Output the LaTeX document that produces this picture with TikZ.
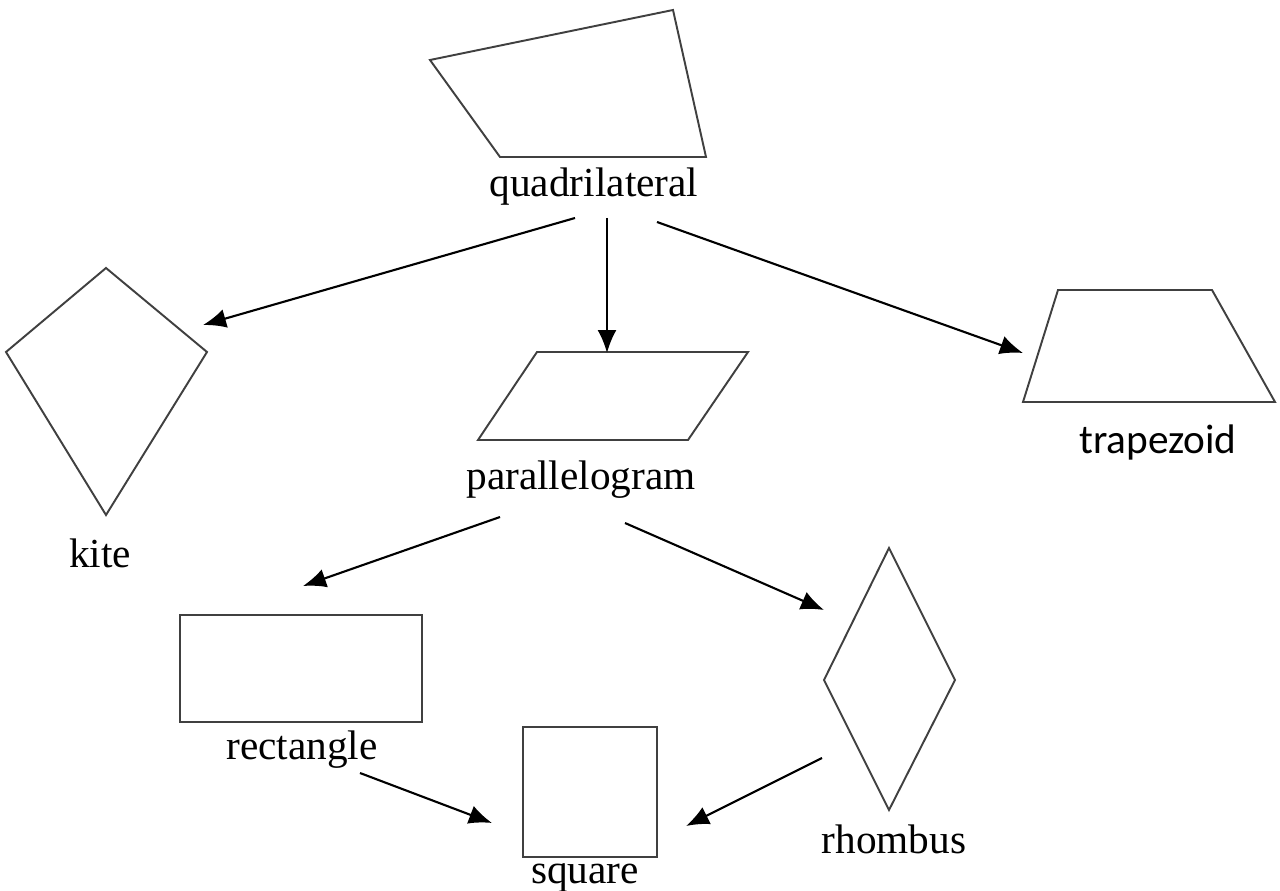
\documentclass[tikz,border=0pt]{standalone}
\usepackage{fontspec}
\setmainfont{Liberation Serif}
\newfontfamily\trapfont{Carlito}
\usetikzlibrary{arrows.meta}
\tikzstyle{outline} = [draw=black!75, line width=1.1pt, line join=miter]
\tikzstyle{shapename} = [inner sep=0pt, font=\fontsize{23.5}{27}\selectfont]
\tikzstyle{arrow} = [line width=1.2pt, -{Latex[length=0.46cm, width=0.38cm]}]

\begin{document}
\begin{tikzpicture}[x=0.02cm, y=-0.02cm]
    \useasboundingbox (0,0) rectangle (1280,891);
    % shapes
    \draw[outline] (430,60) -- (673,10) -- (706,157) -- (500,157) -- cycle;
    \draw[outline] (106,268) -- (207,352) -- (106,515) -- (6,352) -- cycle;
    \draw[outline] (537,352) -- (748,352) -- (688,440) -- (478,440) -- cycle;
    \draw[outline] (1058,290) -- (1212,290) -- (1275,402) -- (1023,402) -- cycle;
    \draw[outline] (180,615) rectangle (422,722);
    \draw[outline] (523,727) rectangle (657,857);
    \draw[outline] (889,548) -- (955,680) -- (889,810) -- (824,680) -- cycle;
    % labels
    \node[shapename] (quad) at (594,187) {quadrilateral};
    \node[shapename] (kite) at (100,553) {kite};
    \node[shapename] (para) at (581,480) {parallelogram};
    \node[shapename, font=\trapfont\fontsize{23.5}{27}\selectfont] (trap) at (1158,442) {trapezoid};
    \node[shapename] (rect) at (302,750) {rectangle};
    \node[shapename] (sq) at (585,878) {square};
    \node[shapename] (rhomb) at (894,839) {rhombus};
    % arrow ends
    \coordinate (q1) at (575,218);
    \coordinate (q2) at (607,218);
    \coordinate (q3) at (657,222);
    \coordinate (p1) at (500,517);
    \coordinate (p2) at (625,523);
    \coordinate (r1) at (360,773);
    \coordinate (h1) at (822,758);
    \coordinate (kiteend) at (203,325);
    \coordinate (paraend) at (607,353);
    \coordinate (trapend) at (1023,353);
    \coordinate (rectend) at (303,586);
    \coordinate (rhombend) at (824,610);
    \coordinate (sqleft) at (492,823);
    \coordinate (sqright) at (686,826);
    % connectors
    \draw[arrow] (q1) -- (kiteend);
    \draw[arrow] (q2) -- (paraend);
    \draw[arrow] (q3) -- (trapend);
    \draw[arrow] (p1) -- (rectend);
    \draw[arrow] (p2) -- (rhombend);
    \draw[arrow] (r1) -- (sqleft);
    \draw[arrow] (h1) -- (sqright);
\end{tikzpicture}
\end{document}
